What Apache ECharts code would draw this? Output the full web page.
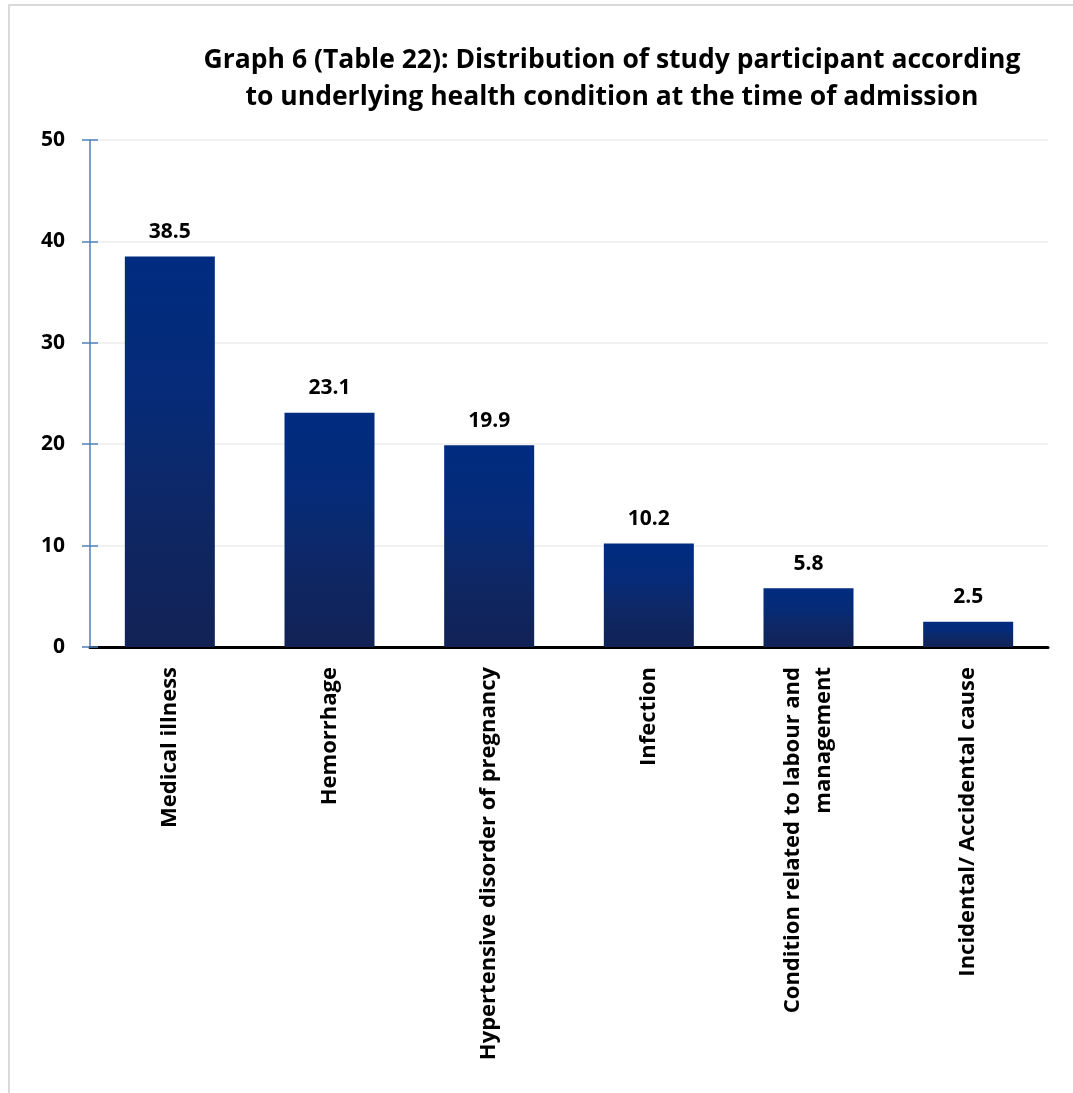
<!DOCTYPE html>
<html lang="en">
<head>
    <meta charset="UTF-8">
    <title>Graph 6</title>
    <script src="https://cdn.jsdelivr.net/npm/echarts@6/dist/echarts.min.js"></script>
    <style>
        html, body { margin: 0; padding: 0; background: #fff; }
        #frame {
            position: absolute; left: 8px; top: 4px; width: 1080px; height: 1100px;
            border-left: 2px solid #d9d9d9; border-top: 2px solid #d9d9d9;
        }
        #chart1 { position: absolute; left: 0; top: 0; width: 1073px; height: 1093px; }
    </style>
</head>
<body>
<div id="frame"></div>
<div id="chart1"></div>
<script type="text/javascript">
    // categories and values
    var categories = [
        'Medical illness',
        'Hemorrhage',
        'Hypertensive disorder of pregnancy',
        'Infection',
        'Condition related to labour and\nmanagement',
        'Incidental/ Accidental cause'
    ];
    var percentages = [38.5, 23.1, 19.9, 10.2, 5.8, 2.5];
    var yTicks = [0, 10, 20, 30, 40, 50];

    var fontFam = '"Open Sans", "Liberation Sans", sans-serif';
    var axisBlue = '#4f81bd';

    var myChart1 = echarts.init(document.getElementById('chart1'));
    myChart1.setOption({
        backgroundColor: 'transparent',
        title: {
            text: 'Graph 6 (Table 22): Distribution of study participant according\nto underlying health condition at the time of admission',
            left: 607,
            top: 37,
            textAlign: 'center',
            textStyle: {
                fontFamily: fontFam,
                fontSize: 26.5,
                fontWeight: 'bold',
                color: '#000',
                lineHeight: 37
            }
        },
        grid: {
            left: 90,
            right: 25,
            top: 140,
            bottom: 446
        },
        xAxis: {
            type: 'category',
            data: categories,
            axisLine: { lineStyle: { color: '#000', width: 3 } },
            axisTick: { show: false },
            axisLabel: {
                rotate: 90,
                margin: 20,
                interval: 0,
                fontFamily: fontFam,
                fontSize: 22,
                fontWeight: 'bold',
                color: '#000',
                lineHeight: 31
            }
        },
        yAxis: [{
            type: 'value',
            min: yTicks[0],
            max: yTicks[yTicks.length - 1],
            interval: 10,
            axisLine: { show: true, lineStyle: { color: axisBlue, width: 1.5 } },
            axisTick: { show: true, length: 8, lineStyle: { color: axisBlue, width: 1.5 } },
            splitLine: { lineStyle: { color: '#ececec', width: 1.5 } },
            axisLabel: {
                margin: 25,
                fontFamily: fontFam,
                fontSize: 21,
                fontWeight: 'bold',
                color: '#000'
            }
        }, {
            // same scale again, only to draw the inner half of the crossing ticks
            type: 'value',
            position: 'left',
            min: yTicks[0],
            max: yTicks[yTicks.length - 1],
            interval: 10,
            axisLine: { show: false },
            axisTick: { show: true, inside: true, length: 8, lineStyle: { color: axisBlue, width: 1.5 } },
            splitLine: { show: false },
            axisLabel: { show: false }
        }],
        series: [{
            name: 'Percentage',
            type: 'bar',
            data: percentages,
            barWidth: 90,
            itemStyle: {
                color: new echarts.graphic.LinearGradient(0, 0, 0, 1, [
                    { offset: 0, color: '#002c80' },
                    { offset: 0.35, color: '#062b78' },
                    { offset: 0.6, color: '#0d2868' },
                    { offset: 1, color: '#122255' }
                ])
            },
            label: {
                show: true,
                position: 'top',
                distance: 14,
                fontFamily: fontFam,
                fontSize: 21,
                fontWeight: 'bold',
                color: '#000'
            }
        }]
    });
</script>
</body>
</html>
